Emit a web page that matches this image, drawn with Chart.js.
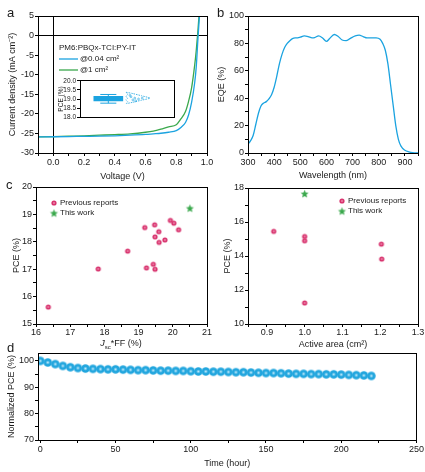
<!DOCTYPE html>
<html>
<head>
<meta charset="utf-8">
<script src="https://cdn.jsdelivr.net/npm/chart.js@4.4.1/dist/chart.umd.min.js"></script>
<style>
  html, body { margin: 0; padding: 0; background: #fff; }
  #fig { position: relative; width: 425px; height: 472px; overflow: hidden;
         font-family: "Liberation Sans", Arial, Helvetica, sans-serif; color: #1a1a1a; }
  #fig canvas { position: absolute; }
  .lbl { position: absolute; font-size: 13px; line-height: 1; }
  .xt { position: absolute; font-size: 9px; white-space: nowrap; transform: translate(-50%, -50%); }
</style>
</head>
<body>
<div id="fig">
  <canvas id="chartA"></canvas>
  <canvas id="chartInset"></canvas>
  <canvas id="chartB"></canvas>
  <canvas id="chartC1"></canvas>
  <canvas id="chartC2"></canvas>
  <canvas id="chartD"></canvas>
  <div class="lbl" style="left:7px;top:6px">a</div>
  <div class="lbl" style="left:217px;top:6px">b</div>
  <div class="lbl" style="left:6px;top:178px">c</div>
  <div class="lbl" style="left:7px;top:341px">d</div>
  <div class="xt" style="left:121px;top:344px"><i>J</i><sub style="font-size:6px">sc</sub>*FF (%)</div>
</div>
<script>
// a: J-V curves
const jvVolt = [-0.1, 0, 0.1, 0.2, 0.3, 0.4, 0.5, 0.6, 0.65, 0.7, 0.75, 0.8, 0.83, 0.86, 0.88, 0.9, 0.92, 0.93, 0.94, 0.95, 0.955];
const jvSmall = [-25.9, -25.85, -25.8, -25.75, -25.7, -25.6, -25.45, -25.25, -25.1, -24.95, -24.7, -24.3, -23.5, -22.2, -20.3, -17.0, -12.0, -8.0, -1.5, 4.5, 7.0];
const jvLarge = [-25.9, -25.8, -25.7, -25.6, -25.45, -25.3, -25.1, -24.7, -24.4, -23.9, -23.3, -22.8, -21.3, -19.4, -16.8, -13.3, -7.5, -3.8, 0.8, 6.0, 8.0];

// a inset: PCE statistics (min, q1, median, q3, max)
const insetBox = [18.77, 18.9, 19.02, 19.15, 19.25];
const violinX = [4.9, 5.6, 6.5, 7.4, 6.5, 5.6, 4.9, 5.05, 4.85, 5.05, 4.85, 5.05, 4.9];
const violinY = [19.37, 19.3, 19.18, 19.05, 18.93, 18.82, 18.75, 18.85, 18.95, 19.05, 19.15, 19.25, 19.37];
const dotX = [5.4, 5.8, 5.6, 6.2, 5.3, 5.9, 6.6];
const dotY = [19.12, 19.05, 18.95, 19.0, 19.2, 18.9, 19.05];

// b: EQE
const wavelength = [300, 310, 320, 330, 340, 350, 360, 370, 380, 390, 400, 410, 420, 430, 440, 450, 460, 470, 480, 490, 500, 515, 530, 545, 555, 570, 585, 600, 612, 630, 645, 660, 675, 690, 710, 725, 740, 755, 770, 790, 805, 815, 825, 835, 845, 855, 865, 875, 885, 900, 915, 930, 950];
const eqe = [6.5, 9, 13, 21, 29, 34.5, 36.5, 37.5, 39.5, 42.5, 48, 56, 65, 72, 77, 80, 82, 83.5, 84, 84, 84.5, 85.5, 85, 84, 84.3, 85.5, 84, 81.5, 83.5, 86.5, 85, 82.5, 82, 83.5, 85.5, 86, 85, 84, 84, 84, 83, 80, 75, 65, 50, 35, 20, 10, 5, 2, 0.8, 0.2, 0];

// c: literature comparison
const prevJscFF = [16.36, 17.82, 18.68, 19.18, 19.23, 19.43, 19.47, 19.48, 19.48, 19.59, 19.60, 19.77, 19.93, 20.03, 20.17];
const prevPCE = [15.62, 17.01, 17.66, 18.52, 17.05, 17.18, 18.62, 18.18, 17.0, 18.37, 17.98, 18.07, 18.78, 18.68, 18.44];
const thisJscFF = [20.5];
const thisPCE = [19.23];
const prevArea = [0.918, 1.0, 1.0, 1.0, 1.203, 1.204];
const prevAreaPCE = [15.45, 15.15, 14.9, 11.24, 14.7, 13.82];
const thisArea = [1.0];
const thisAreaPCE = [17.67];

// d: stability
const hours = [0, 5, 10, 15, 20, 25, 30, 35, 40, 45, 50, 55, 60, 65, 70, 75, 80, 85, 90, 95, 100, 105, 110, 115, 120, 125, 130, 135, 140, 145, 150, 155, 160, 165, 170, 175, 180, 185, 190, 195, 200, 205, 210, 215, 220];
const normPCE = [100.0, 99.4, 98.8, 98.1, 97.6, 97.3, 97.1, 97.0, 96.9, 96.8, 96.8, 96.7, 96.6, 96.5, 96.5, 96.4, 96.3, 96.3, 96.2, 96.2, 96.1, 96.0, 96.0, 95.9, 95.9, 95.8, 95.7, 95.7, 95.6, 95.5, 95.4, 95.4, 95.3, 95.2, 95.1, 95.1, 95.0, 95.0, 94.9, 94.9, 94.8, 94.7, 94.6, 94.5, 94.3];

const FONT = '"Liberation Sans", Arial, Helvetica, sans-serif';
const BLUE = '#1ba3e0';
const GREEN = '#3aa84c';
const PINK = '#d8336e';
const TXT = '#1a1a1a';

Chart.defaults.font.family = FONT;
Chart.defaults.color = TXT;
Chart.defaults.animation = false;
Chart.defaults.responsive = false;
Chart.defaults.plugins.legend.display = false;
Chart.defaults.plugins.tooltip.enabled = false;

const pts = (xs, ys) => xs.map((x, i) => ({x: x, y: ys[i]}));

function sphere(r, base, light) {
  const c = document.createElement('canvas');
  const s = Math.ceil(r * 2) + 2;
  c.width = c.height = s;
  const g = c.getContext('2d');
  const grad = g.createRadialGradient(s / 2, s / 2, 0, s / 2, s / 2, r);
  grad.addColorStop(0, light);
  grad.addColorStop(0.5, base);
  grad.addColorStop(1, base);
  g.fillStyle = grad;
  g.beginPath();
  g.arc(s / 2, s / 2, r, 0, Math.PI * 2);
  g.fill();
  return c;
}

function star(r, color) {
  const c = document.createElement('canvas');
  const s = Math.ceil(r * 2) + 2;
  c.width = c.height = s;
  const g = c.getContext('2d');
  g.fillStyle = color;
  g.beginPath();
  for (let i = 0; i < 10; i++) {
    const a = -Math.PI / 2 + i * Math.PI / 5;
    const rr = i % 2 ? r * 0.45 : r;
    g.lineTo(s / 2 + rr * Math.cos(a), s / 2 + 0.5 + rr * Math.sin(a));
  }
  g.closePath();
  g.fill();
  return c;
}

const pinkDot = sphere(2.6, PINK, '#f6b8cd');
const blueDot = sphere(4.3, '#22a6de', '#c8ecfb');
const greenStar = star(4.2, GREEN);

// axes with outward ticks, labels only on major steps
function ax(o) {
  const isX = o.pos === 'bottom';
  const maj = o.major || o.step;
  return {
    type: 'linear', position: o.pos, min: o.min, max: o.max, offset: false,
    display: o.display === undefined ? true : o.display,
    afterFit: s => { if (isX) s.height = o.size; else s.width = o.size; },
    border: {display: true, color: '#000', width: 1},
    grid: {display: true, drawOnChartArea: false, drawTicks: true, tickLength: 3, tickColor: '#000', offset: false},
    ticks: {
      stepSize: o.step, autoSkip: false, includeBounds: false, maxRotation: 0, minRotation: 0,
      padding: o.tp === undefined ? 1 : o.tp, color: TXT, font: {size: o.fs || 9},
      callback: v => Math.abs(v / maj - Math.round(v / maj)) < 1e-6 ? v.toFixed(o.dec || 0) : ''
    },
    title: o.title
      ? {display: true, text: o.title, color: TXT, font: {size: o.tfs || 9}, padding: {top: o.tpad || 0, bottom: o.tpad || 0}}
      : {display: false}
  };
}

const deco = {
  id: 'deco',
  beforeDatasetsDraw(chart, args, o) {
    if (!o.zeroLines) return;
    const {ctx, chartArea: a, scales} = chart;
    const px = Math.round(scales.x.getPixelForValue(0) - 0.5) + 0.5;
    const py = Math.round(scales.y.getPixelForValue(0) - 0.5) + 0.5;
    ctx.save();
    ctx.strokeStyle = '#000';
    ctx.lineWidth = 1;
    ctx.beginPath();
    ctx.moveTo(px, a.top); ctx.lineTo(px, a.bottom);
    ctx.moveTo(a.left, py); ctx.lineTo(a.right, py);
    ctx.stroke();
    ctx.restore();
  },
  afterDraw(chart, args, o) {
    const {ctx, chartArea: a} = chart;
    const al = p => Math.round(p - 0.5) + 0.5;
    ctx.save();
    if (o.frame) {
      ctx.strokeStyle = '#000';
      ctx.lineWidth = 1;
      ctx.strokeRect(al(a.left), al(a.top), al(a.right) - al(a.left), al(a.bottom) - al(a.top));
    }
    (o.items || []).forEach(it => {
      if (it.line) {
        ctx.strokeStyle = it.line;
        ctx.lineWidth = 1.3;
        ctx.beginPath();
        ctx.moveTo(it.x, it.y); ctx.lineTo(it.x2, it.y);
        ctx.stroke();
      } else if (it.img) {
        ctx.drawImage(it.img, it.x - it.img.width / 2, it.y - it.img.height / 2);
      } else {
        ctx.fillStyle = TXT;
        ctx.font = (it.size || 8) + 'px ' + FONT;
        ctx.textBaseline = 'middle';
        ctx.fillText(it.text, it.x, it.y);
      }
    });
    ctx.restore();
  }
};
Chart.register(deco);

// canvas box + plot-area rectangle (page coordinates)
function make(id, L, T, W, H, plot, cfg) {
  const c = document.getElementById(id);
  c.width = W; c.height = H;
  c.style.left = L + 'px'; c.style.top = T + 'px';
  cfg.options.layout = {padding: {left: 0, top: plot[1] - T, right: L + W - plot[2], bottom: plot.bottomPad || 0}};
  return new Chart(c, cfg);
}

// panel a
make('chartA', 0, 0, 215, 185, [38, 16, 207, 153], {
  type: 'line',
  data: {datasets: [
    {data: pts(jvVolt, jvSmall), borderColor: BLUE, borderWidth: 1.3, pointRadius: 0, cubicInterpolationMode: 'monotone'},
    {data: pts(jvVolt, jvLarge), borderColor: GREEN, borderWidth: 1.3, pointRadius: 0, cubicInterpolationMode: 'monotone'}
  ]},
  options: {
    scales: {
      x: ax({pos: 'bottom', min: -0.1, max: 1.0, step: 0.1, major: 0.2, dec: 1, size: 32, title: 'Voltage (V)', tpad: 3}),
      y: ax({pos: 'left', min: -30, max: 5, step: 5, size: 38, title: 'Current density (mA cm\u207B\u00B2)', tpad: 7})
    },
    plugins: {deco: {frame: true, zeroLines: true, items: [
      {text: 'PM6:PBQx-TCI:PY-IT', x: 59, y: 48},
      {line: BLUE, x: 59, x2: 78, y: 59},
      {text: '@0.04 cm\u00B2', x: 80, y: 59},
      {line: GREEN, x: 59, x2: 78, y: 70},
      {text: '@1 cm\u00B2', x: 80, y: 70}
    ]}}
  }
});

// panel a inset
make('chartInset', 55, 76, 124, 46, Object.assign([80, 80, 176, 118], {bottomPad: 4}), {
  type: 'scatter',
  data: {datasets: [
    {type: 'bar', data: [{x: 3.0, y: [insetBox[1], insetBox[3]]}], backgroundColor: BLUE, barThickness: 29, borderWidth: 0},
    {type: 'line', data: pts([1.5, 4.5], [insetBox[2], insetBox[2]]), borderColor: '#0d6ea8', borderWidth: 1, pointRadius: 0},
    {type: 'line', data: pts([3.0, 3.0], [insetBox[0], insetBox[4]]), borderColor: BLUE, borderWidth: 1, pointRadius: 0},
    {type: 'line', data: pts([2.15, 3.85], [insetBox[4], insetBox[4]]), borderColor: BLUE, borderWidth: 1, pointRadius: 0},
    {type: 'line', data: pts([2.15, 3.85], [insetBox[0], insetBox[0]]), borderColor: BLUE, borderWidth: 1, pointRadius: 0},
    {type: 'line', data: pts(violinX, violinY), borderColor: BLUE, borderWidth: 0.8, borderDash: [1.5, 1], pointRadius: 0, tension: 0.2},
    {data: pts(dotX, dotY), pointRadius: 0.9, pointBorderWidth: 0.6, borderColor: BLUE, backgroundColor: 'rgba(0,0,0,0)'}
  ]},
  options: {
    scales: {
      x: ax({pos: 'bottom', min: 0, max: 10, step: 5, size: 0, display: false}),
      y: ax({pos: 'left', min: 18, max: 20, step: 0.5, dec: 1, fs: 6.5, size: 25, title: 'PCE (%)', tfs: 6.5, tpad: 2, tp: 1})
    },
    plugins: {deco: {frame: true}}
  }
});

// panel b
make('chartB', 210, 0, 215, 185, [248, 16, 418, 153], {
  type: 'line',
  data: {datasets: [
    {data: pts(wavelength, eqe), borderColor: BLUE, borderWidth: 1.3, pointRadius: 0, cubicInterpolationMode: 'monotone'}
  ]},
  options: {
    scales: {
      x: ax({pos: 'bottom', min: 300, max: 950, step: 50, major: 100, size: 32, title: 'Wavelength (nm)', tpad: 4}),
      y: ax({pos: 'left', min: 0, max: 100, step: 10, major: 20, size: 38, title: 'EQE (%)', tpad: 6})
    },
    plugins: {deco: {frame: true}}
  }
});

// panel c, left
make('chartC1', 0, 180, 215, 170, [36, 187, 207, 324], {
  type: 'scatter',
  data: {datasets: [
    {data: pts(prevJscFF, prevPCE), pointStyle: pinkDot},
    {data: pts(thisJscFF, thisPCE), pointStyle: greenStar}
  ]},
  options: {
    scales: {
      x: ax({pos: 'bottom', min: 16, max: 21, step: 0.5, major: 1, size: 26, tp: 0}),
      y: ax({pos: 'left', min: 15, max: 20, step: 0.5, major: 1, size: 36, title: 'PCE (%)', tpad: 11})
    },
    plugins: {deco: {frame: true, items: [
      {img: pinkDot, x: 54, y: 23},
      {text: 'Previous reports', x: 60, y: 23},
      {img: greenStar, x: 54, y: 33},
      {text: 'This work', x: 60, y: 33}
    ]}}
  }
});

// panel c, right
make('chartC2', 210, 180, 215, 170, [248, 188, 418, 324], {
  type: 'scatter',
  data: {datasets: [
    {data: pts(prevArea, prevAreaPCE), pointStyle: pinkDot},
    {data: pts(thisArea, thisAreaPCE), pointStyle: greenStar}
  ]},
  options: {
    scales: {
      x: ax({pos: 'bottom', min: 0.85, max: 1.3, step: 0.05, major: 0.1, dec: 1, size: 26, tp: 0, title: 'Active area (cm\u00B2)', tpad: 0}),
      y: ax({pos: 'left', min: 10, max: 18, step: 1, major: 2, size: 38, title: 'PCE (%)', tpad: 12})
    },
    plugins: {deco: {frame: true, items: [
      {img: pinkDot, x: 132, y: 21},
      {text: 'Previous reports', x: 138, y: 21},
      {img: greenStar, x: 132, y: 31},
      {text: 'This work', x: 138, y: 31}
    ]}}
  }
});

// panel d
make('chartD', 0, 345, 425, 127, [38, 353, 418, 440], {
  type: 'scatter',
  data: {datasets: [
    {data: pts(hours, normPCE), pointStyle: blueDot}
  ]},
  options: {
    scales: {
      x: ax({pos: 'bottom', min: -1.5, max: 250, step: 25, major: 50, size: 32, title: 'Time (hour)', tpad: 3}),
      y: ax({pos: 'left', min: 70, max: 103, step: 5, major: 10, size: 38, title: 'Normalized PCE (%)', tpad: 6})
    },
    plugins: {deco: {frame: true}}
  }
});
</script>
</body>
</html>
